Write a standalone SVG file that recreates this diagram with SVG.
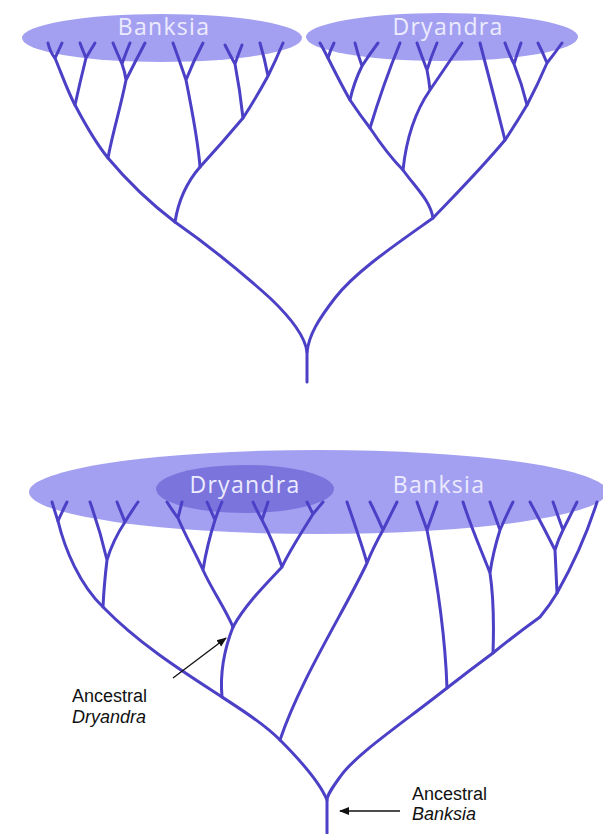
<svg xmlns="http://www.w3.org/2000/svg" width="603" height="834" viewBox="0 0 603 834">
<style>
.clade{fill:#a4a0f1}
.inner{fill:#7b74dd}
.lbl{font-family:"Open Sans","Liberation Sans",sans-serif;font-size:23px;fill:#ecebff;letter-spacing:1.3px;text-anchor:middle}
.br{fill:none;stroke:#4b40c6;stroke-width:3;stroke-linecap:round;stroke-linejoin:round}
.ann{font-family:"Liberation Sans",Arial,sans-serif;font-size:18px;fill:#111}
.arr{fill:none;stroke:#111;stroke-width:1.3}
</style>
<defs>
<marker id="ah" viewBox="0 0 10 10" refX="9" refY="5" markerWidth="10" markerHeight="10" markerUnits="userSpaceOnUse" orient="auto">
<path d="M0,1 L10,5 L0,9 Z" fill="#111"/>
</marker>
</defs>
<rect width="603" height="834" fill="#ffffff"/>
<g id="top-banksia">
<ellipse class="clade" cx="162" cy="38" rx="140" ry="24"/>
<text class="lbl" x="164" y="35">Banksia</text>
</g>
<g id="top-dryandra">
<ellipse class="clade" cx="442" cy="37" rx="136" ry="24"/>
<text class="lbl" x="448" y="35">Dryandra</text>
</g>
<g id="bottom-banksia">
<ellipse class="clade" cx="318" cy="492" rx="289" ry="42"/>
<text class="lbl" x="439" y="493">Banksia</text>
</g>
<g id="bottom-dryandra">
<ellipse class="inner" cx="245" cy="489" rx="89" ry="24"/>
<text class="lbl" x="245" y="493">Dryandra</text>
</g>
<g id="connectors">
<g id="tree-top">
<path class="br" d="M48,43 Q50,52 55,58 C62,75 68,92 75,105 C85,124 95,142 108,158 C128,182 150,203 175,222 C215,250 250,280 270,298 C290,317 305,335 307,352 L307,382"/>
<path class="br" d="M62,43 Q58,52 55,58"/>
<path class="br" d="M80,43 Q83,51 86,58 M95,43 Q90,51 86,58 M86,58 Q80,82 75,105"/>
<path class="br" d="M113,43 Q118,55 122,64 M130,43 Q125,55 122,64 M122,64 Q125,72 126,80 C120,110 112,135 108,158 M145,43 Q135,62 126,80"/>
<path class="br" d="M173,43 Q180,62 186,80 M203,43 Q193,62 186,80 M186,80 C192,110 198,140 200,167"/>
<path class="br" d="M225,45 Q230,55 235,64 M242,45 Q238,55 235,64 M235,64 Q240,90 243,118"/>
<path class="br" d="M283,43 Q276,60 268,76 Q256,98 243,118 Q222,143 200,167 Q180,190 175,222 M260,43 Q265,60 268,76"/>
<path class="br" d="M320,43 Q324,50 328,58 C335,72 342,86 350,100 Q360,115 370,128 C380,143 390,157 403,170 C415,187 430,200 433,218 C395,245 355,272 335,298 C318,320 309,335 307,352"/>
<path class="br" d="M334,43 Q330,51 328,58"/>
<path class="br" d="M355,43 Q358,55 362,66 M378,43 Q369,55 362,66 M362,66 Q354,82 350,100"/>
<path class="br" d="M400,43 Q383,85 370,128"/>
<path class="br" d="M417,43 Q422,57 427,70 M437,43 Q431,57 427,70 M427,70 Q429,80 430,90 M462,43 Q445,68 430,90 M430,90 Q408,122 403,170"/>
<path class="br" d="M562,43 Q555,53 547,63 Q538,84 527,105 Q517,122 505,140 C480,170 455,195 433,218 M538,43 Q543,53 547,63"/>
<path class="br" d="M505,43 Q509,54 514,64 M521,43 Q517,54 514,64 M514,64 Q522,84 527,105"/>
<path class="br" d="M480,43 Q493,92 505,140"/>
</g>
<g id="tree-bottom">
<path class="br" d="M52,502 Q55,512 58,521 C65,550 80,585 103,607 C140,645 185,673 222,697 C245,712 265,725 280,740 C300,760 320,783 327,800 L327,833"/>
<path class="br" d="M67,502 Q62,512 58,521"/>
<path class="br" d="M90,502 Q100,530 107,560 M117,502 Q121,512 125,522 M138,502 Q131,512 125,522 M125,522 Q113,540 107,560 M107,560 Q104,585 103,607"/>
<path class="br" d="M167,502 Q172,510 178,518 M182,502 Q180,510 178,518 M207,502 Q211,511 215,520 M222,502 Q218,511 215,520 M178,518 C185,535 195,552 203,570 M215,520 Q207,545 203,570 M203,570 C212,590 225,608 233,627"/>
<path class="br" d="M253,502 Q257,511 262,520 M268,502 Q265,511 262,520 M262,520 C270,535 277,552 282,567 M307,502 Q310,508 313,514 M323,502 Q318,508 313,514 M313,514 C302,532 290,550 282,567 M282,567 C265,585 245,605 233,627"/>
<path class="br" d="M233,627 C224,650 220,675 222,697"/>
<path class="br" d="M347,502 C355,525 362,545 367,563 M370,502 Q377,516 383,530 M397,502 Q390,516 383,530 M383,530 Q373,548 367,563 M367,563 C345,610 300,680 280,740"/>
<path class="br" d="M417,502 Q422,516 427,530 M437,502 Q432,516 427,530 M427,530 C437,580 445,630 447,688"/>
<path class="br" d="M463,502 C472,530 482,552 490,573 M490,502 Q495,516 500,530 M513,502 Q506,516 500,530 M500,530 Q493,552 490,573 M490,573 C494,600 494,625 493,653"/>
<path class="br" d="M530,502 Q543,526 555,550 M553,502 Q558,516 563,530 M577,502 Q570,516 563,530 M563,530 Q558,540 555,550 Q556,572 557,593 M597,502 C585,540 570,570 557,593"/>
<path class="br" d="M557,593 Q550,605 540,617 Q515,635 493,653 Q470,670 447,688 C400,725 355,755 340,777 C332,788 327,795 327,800"/>
</g>
<path class="arr" d="M173,678 L226,638" marker-end="url(#ah)"/>
<path class="arr" d="M400,811 L340,811" marker-end="url(#ah)"/>
</g>
<g id="label-ancestral-dryandra">
<text class="ann" x="72" y="702">Ancestral</text>
<text class="ann" x="72" y="723" font-style="italic">Dryandra</text>
</g>
<g id="label-ancestral-banksia">
<text class="ann" x="412" y="800">Ancestral</text>
<text class="ann" x="412" y="820" font-style="italic">Banksia</text>
</g>
</svg>
